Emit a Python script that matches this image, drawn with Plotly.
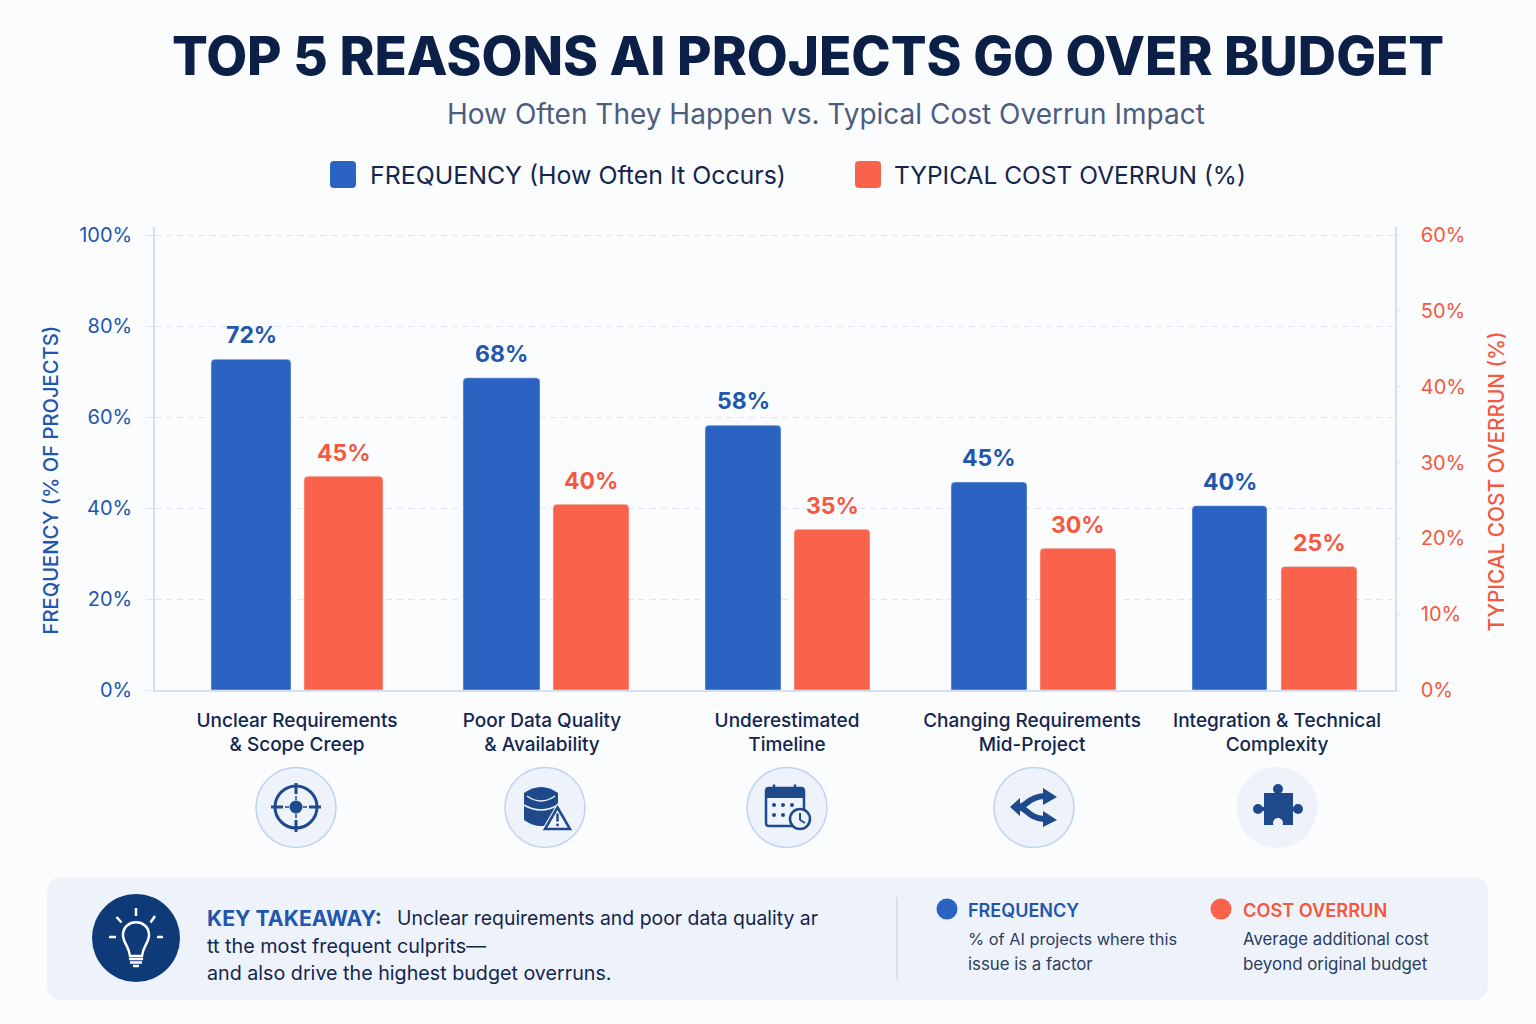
import re
import plotly.graph_objects as go

W, H = 1536, 1024

categories = [
    "Unclear Requirements<br>& Scope Creep",
    "Poor Data Quality<br>& Availability",
    "Underestimated<br>Timeline",
    "Changing Requirements<br>Mid-Project",
    "Integration & Technical<br>Complexity",
]
# Bar heights as drawn, each read against its own axis
frequency_heights = [72.7, 68.6, 58.2, 45.7, 40.5]
overrun_heights = [28.2, 24.5, 21.2, 18.7, 16.3]
# Value labels as printed above the bars
frequency_labels = ["72%", "68%", "58%", "45%", "40%"]
overrun_labels = ["45%", "40%", "35%", "30%", "25%"]
left_ticks = [0, 20, 40, 60, 80, 100]
right_ticks = [0, 10, 20, 30, 40, 50, 60]

BLUE = "#2a63c1"
RED = "#fb624a"
BLUE_TXT = "#2256ad"
RED_TXT = "#f4583e"
NAVY = "#0b1f47"
DARK = "#14264d"
ICON = "#1e4a8c"
AXIS = "#d6dff0"
FONT = "Inter"
BG = "#fbfcfe"
SLOT = 245.0
# Styling: the reference's bars sit slightly irregularly in their slots (pixels from slot centre)
blue_offset_px = [-86, -79, -82, -81, -85]
blue_width_px = [80, 77, 76, 76, 75]
red_offset_px = [7, 11, 7, 8, 4]
red_width_px = [79, 76, 76, 76, 76]


def X(p):
    return p / W


def Y(p):
    return 1 - p / H


def path(d):
    parts = re.findall(r"[MLQCZ]|-?[\d.]+", d)
    out, isx = [], True
    for t in parts:
        if t.isalpha():
            out.append(t)
            isx = True
        else:
            v = float(t)
            out.append(f"{X(v) if isx else Y(v):.6f}")
            isx = not isx
    return " ".join(out)


shapes = []


def add_path(d, fill=None, color=None, width=0):
    s = dict(type="path", xref="paper", yref="paper", path=path(d), layer="above",
             line=dict(color=color or "rgba(0,0,0,0)", width=width))
    if fill:
        s["fillcolor"] = fill
    shapes.append(s)


def add_line(x0, y0, x1, y1, color=ICON, width=3):
    shapes.append(dict(type="line", xref="paper", yref="paper", layer="above",
                       x0=X(x0), x1=X(x1), y0=Y(y0), y1=Y(y1),
                       line=dict(color=color, width=width)))


def add_circle(cx, cy, r, fill=None, color=None, width=0):
    s = dict(type="circle", xref="paper", yref="paper", layer="above",
             x0=X(cx - r), x1=X(cx + r), y0=Y(cy + r), y1=Y(cy - r),
             line=dict(color=color or "rgba(0,0,0,0)", width=width))
    if fill:
        s["fillcolor"] = fill
    shapes.append(s)


def round_rect(x0, y0, x1, y1, r, fill, color=None, width=0):
    add_path(
        f"M {x0+r} {y0} L {x1-r} {y0} Q {x1} {y0} {x1} {y0+r} L {x1} {y1-r} Q {x1} {y1} {x1-r} {y1} "
        f"L {x0+r} {y1} Q {x0} {y1} {x0} {y1-r} L {x0} {y0+r} Q {x0} {y0} {x0+r} {y0} Z",
        fill, color, width)


annotations = []


def txt(x, y, text, size, color, weight=400, anchor="left", angle=0):
    annotations.append(dict(xref="paper", yref="paper", x=X(x), y=Y(y), text=text, showarrow=False,
                            xanchor=anchor, yanchor="middle", textangle=angle, borderpad=0, borderwidth=0,
                            font=dict(family=FONT, size=size, color=color, weight=weight)))


# Headline block
txt(807.5, 56, "TOP 5 REASONS AI PROJECTS GO OVER BUDGET", 53, NAVY, 800, "center")
txt(826, 113.5, "How Often They Happen vs. Typical Cost Overrun Impact", 28, "#4d5d7e", 400, "center")

# Legend
round_rect(330, 161, 356, 188, 4, BLUE)
txt(370, 174.5, "FREQUENCY (How Often It Occurs)", 24.9, DARK, 400)
round_rect(855, 161, 881, 188, 4, RED)
txt(894, 174.5, "TYPICAL COST OVERRUN (%)", 24.5, DARK, 400)

# Axis titles
txt(50, 480.5, "FREQUENCY (% OF PROJECTS)", 20.2, BLUE_TXT, 500, "center", -90)
txt(1496, 481.5, "TYPICAL COST OVERRUN (%)", 20.8, RED_TXT, 500, "center", -90)

# Icon badges
BADGE = "#edf2fb"
RING = "#bfd2ef"
for cx in (296, 545, 787, 1034):
    add_circle(cx, 807.5, 40, BADGE, RING, 1.5)
add_circle(1277, 807.5, 40.5, BADGE)

# Target
add_circle(296, 807, 21, None, ICON, 3)
add_circle(296, 807, 6.5, ICON)
add_line(271, 807, 283, 807)
add_line(309, 807, 321, 807)
add_line(296, 783, 296, 794)
add_line(296, 820, 296, 832)
add_line(285, 807, 289, 807, ICON, 1.5)
add_line(303, 807, 307, 807, ICON, 1.5)
add_line(296, 796, 296, 800, ICON, 1.5)
add_line(296, 814, 296, 818, ICON, 1.5)

# Database + warning
add_path("M 524 793 Q 541 781 558 793 L 558 820 Q 541 832 524 820 Z", ICON)
add_path("M 527 796 Q 541 806 555 796", None, BADGE, 1.5)
add_path("M 524 805 Q 541 815 558 805", None, BADGE, 1.5)
add_path("M 557.5 803 L 574 831 L 541 831 Z", BADGE)
add_path("M 557.5 807.5 L 570 829 L 545 829 Z", BADGE, ICON, 2.5)
add_line(557.5, 813.5, 557.5, 821.5, ICON, 2.5)
add_circle(557.5, 825, 1.4, ICON)

# Calendar + clock
round_rect(766, 788, 804, 826, 3, BADGE, ICON, 2.5)
add_path("M 766 788 L 804 788 L 804 798 L 766 798 Z", ICON)
add_line(774, 784.5, 774, 791, ICON, 2.5)
add_line(795, 784.5, 795, 791, ICON, 2.5)
for dx, dy in [(774, 805), (783, 805), (792, 805), (774, 815), (783, 815)]:
    add_circle(dx, dy, 2, ICON)
add_circle(800, 819, 10, BADGE, ICON, 2.5)
add_line(800, 813, 800, 820, ICON, 2)
add_line(800, 820, 805, 823, ICON, 2)

# Shuffle arrows
add_path("M 1018 807 C 1026 807 1028 797 1044 796", None, ICON, 6)
add_path("M 1018 807 C 1026 807 1028 818 1044 819", None, ICON, 6)
add_path("M 1043 788 L 1057 797 L 1043 805 Z", ICON)
add_path("M 1043 811 L 1057 820 L 1043 827 Z", ICON)
add_path("M 1010 807 L 1020 798 L 1020 816 Z", ICON)

# Puzzle piece
add_path("M 1264 793 L 1293 793 L 1293 825 L 1264 825 Z", ICON)
add_circle(1278, 789, 5, ICON)
add_circle(1258, 809, 5, ICON)
add_circle(1298, 809, 5, ICON)
add_line(1278, 789, 1278, 795, ICON, 4)
add_line(1258, 809, 1266, 809, ICON, 4)
add_line(1291, 809, 1298, 809, ICON, 4)
add_circle(1278, 823, 5, BADGE)

# Takeaway panel
round_rect(47, 877, 1488, 1000, 16, "#eef3fb")
add_circle(136, 938, 44, "#0e3a78")
WHITE = "#ffffff"
add_path("M 130 956 C 129 946 123 943 123 935 C 123 918 149 918 149 935 C 149 943 143 946 142 956 Z",
         None, WHITE, 2.5)
add_line(129, 959, 143, 959, WHITE, 2.5)
add_line(130, 962.5, 142, 962.5, WHITE, 2.5)
add_line(133, 966, 139, 966, WHITE, 2.5)
add_line(136, 908, 136, 916, WHITE, 2.5)
add_line(116.5, 917, 121.5, 922.5, WHITE, 2.5)
add_line(155, 916, 150.5, 922.5, WHITE, 2.5)
add_line(109, 937, 116, 937, WHITE, 2.5)
add_line(157, 937, 163, 937, WHITE, 2.5)

txt(207, 918, "KEY TAKEAWAY:", 21.2, BLUE_TXT, 700)
txt(397, 918, "Unclear requirements and poor data quality ar", 19.4, DARK)
txt(207, 946, "tt the most frequent culprits—", 19.8, DARK)
txt(207, 973, "and also drive the highest budget overruns.", 19.7, DARK)
add_line(897, 897, 897, 980, "#c6d4ea", 1.2)
add_circle(947, 909, 10.5, BLUE)
txt(968, 910, "FREQUENCY", 18, BLUE_TXT, 600)
txt(968, 939, "% of AI projects where this", 16.4, "#2c3c60")
txt(968, 964, "issue is a factor", 16.8, "#2c3c60")
add_circle(1221, 909, 10.5, RED)
txt(1243, 910, "COST OVERRUN", 18.2, RED_TXT, 600)
txt(1243, 939, "Average additional cost", 16.8, "#2c3c60")
txt(1243, 964, "beyond original budget", 16.9, "#2c3c60")

# Value labels attached to the bars
for i, (h, lab) in enumerate(zip(frequency_heights, frequency_labels)):
    annotations.append(dict(xref="x", yref="y", x=i, y=h, text=lab, showarrow=False,
                            xshift=blue_offset_px[i] + blue_width_px[i] / 2, yshift=24,
                            yanchor="middle", font=dict(family=FONT, size=23, color=BLUE_TXT, weight=700)))
for i, (h, lab) in enumerate(zip(overrun_heights, overrun_labels)):
    annotations.append(dict(xref="x", yref="y2", x=i, y=h, text=lab, showarrow=False,
                            xshift=red_offset_px[i] + red_width_px[i] / 2, yshift=23,
                            yanchor="middle", font=dict(family=FONT, size=23, color=RED_TXT, weight=700)))

fig = go.Figure()
fig.add_bar(x=categories, y=frequency_heights, name="FREQUENCY (How Often It Occurs)", marker_color=BLUE,
            width=[v / SLOT for v in blue_width_px], offset=[v / SLOT for v in blue_offset_px],
            yaxis="y", hoverinfo="skip")
fig.add_bar(x=categories, y=overrun_heights, name="TYPICAL COST OVERRUN (%)", marker_color=RED,
            width=[v / SLOT for v in red_width_px], offset=[v / SLOT for v in red_offset_px],
            yaxis="y2", hoverinfo="skip")

tickfont = dict(family=FONT, size=20)
fig.update_layout(
    width=W, height=H, autosize=False,
    margin=dict(l=0, r=0, t=0, b=0, pad=0, autoexpand=False),
    paper_bgcolor=BG, plot_bgcolor="rgba(0,0,0,0)",
    showlegend=False, barcornerradius=4,
    shapes=shapes, annotations=annotations,
    xaxis=dict(domain=[155 / W, 1395 / W], type="category", categoryorder="array", categoryarray=categories,
               range=[-142 / SLOT, (1395 - 297) / SLOT], showgrid=False, zeroline=False, automargin=False,
               showline=True, linecolor=AXIS, linewidth=1.5, ticks="",
               ticklabelstandoff=12, tickangle=0,
               tickfont=dict(family=FONT, size=19, color=DARK, weight=500)),
    yaxis=dict(domain=[1 - 690 / H, 1 - 227 / H], range=[0, 463 / 4.55], automargin=False,
               tickvals=left_ticks, ticktext=[f"{v}%" for v in left_ticks],
               showgrid=True, gridcolor="#dfe6f2", griddash="6px,5px", gridwidth=1.2, zeroline=False,
               showline=True, linecolor=AXIS, linewidth=1.5, ticks="outside", ticklen=7, tickcolor="#dfe6f2",
               ticklabelstandoff=10, tickfont=dict(tickfont, color=BLUE_TXT)),
    yaxis2=dict(domain=[1 - 690 / H, 1 - 227 / H], range=[0, 463 / 455 * 60], overlaying="y", side="right",
                tickvals=right_ticks, ticktext=[f"{v}%" for v in right_ticks], automargin=False,
                showgrid=False, zeroline=False,
                showline=True, linecolor=AXIS, linewidth=1.5, ticks="outside", ticklen=3, tickcolor="#dfe6f2",
                ticklabelstandoff=17, tickfont=dict(tickfont, color=RED_TXT)),
)

fig.write_html("out.html", config={"displayModeBar": False},
               post_script="document.body.style.margin='0';document.body.style.overflow='hidden';")
